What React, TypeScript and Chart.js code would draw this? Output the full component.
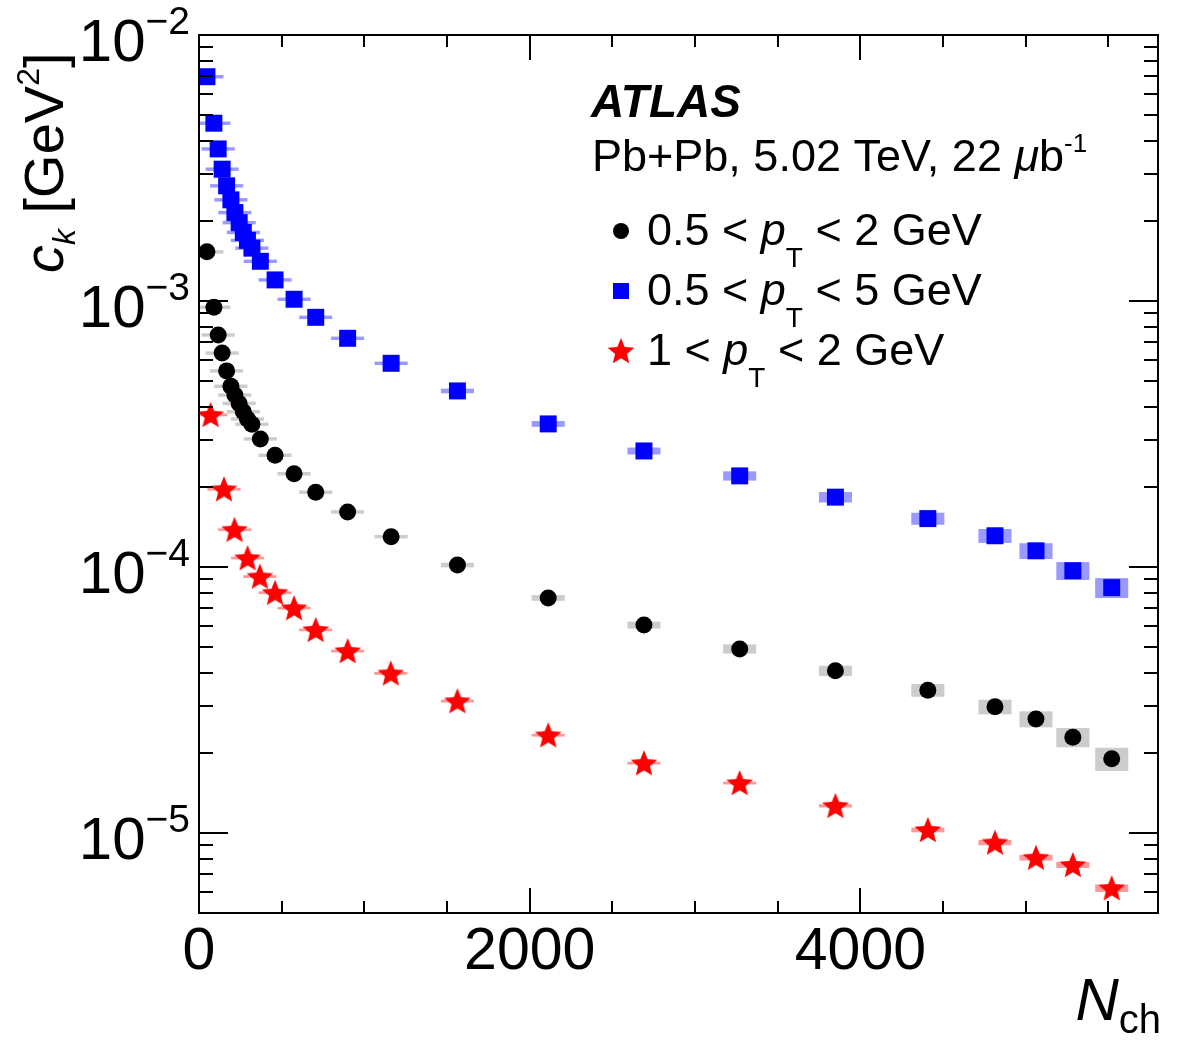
import { useEffect, useRef } from 'react';
import { Chart, registerables } from 'chart.js';

Chart.register(...registerables);

const FONT = '"Liberation Sans", Arial, Helvetica, sans-serif';

// Charged-particle multiplicity bin centres
const nchBins = [
  48, 90, 116, 140, 167, 193, 217, 243, 268, 293, 320, 371, 460, 575, 706, 899,
  1162, 1563, 2112, 2691, 3270, 3849, 4408, 4814, 5062, 5285, 5520,
];
const nchBinsHighPt = [
  70, 151, 215, 294, 368, 460, 575, 706, 899, 1160, 1563, 2112, 2691, 3270, 3849,
  4408, 4814, 5062, 5285, 5520,
];

// c_k [GeV^2] for each pT selection
const ckPt05to2 = [
  1.53e-3, 0.947e-3, 0.745e-3, 0.637e-3, 0.546e-3, 0.478e-3, 0.443e-3, 0.412e-3,
  0.383e-3, 0.36e-3, 0.344e-3, 0.303e-3, 0.263e-3, 0.224e-3, 0.191e-3, 0.161e-3,
  0.13e-3, 0.1017e-3, 0.0765e-3, 0.0605e-3, 0.0492e-3, 0.0407e-3, 0.0344e-3,
  0.0298e-3, 0.0268e-3, 0.0229e-3, 0.019e-3,
];
const ckPt05to5 = [
  6.97e-3, 4.66e-3, 3.73e-3, 3.13e-3, 2.71e-3, 2.4e-3, 2.15e-3, 1.97e-3, 1.81e-3,
  1.69e-3, 1.58e-3, 1.41e-3, 1.2e-3, 1.015e-3, 0.868e-3, 0.724e-3, 0.583e-3,
  0.459e-3, 0.345e-3, 0.273e-3, 0.22e-3, 0.183e-3, 0.152e-3, 0.131e-3, 0.115e-3,
  0.0968e-3, 0.0836e-3,
];
const ckPt1to2 = [
  0.373e-3, 0.196e-3, 0.138e-3, 0.108e-3, 0.092e-3, 0.08e-3, 0.07e-3, 0.058e-3,
  0.0483e-3, 0.0398e-3, 0.0313e-3, 0.0233e-3, 0.0183e-3, 0.0154e-3, 0.01264e-3,
  0.01026e-3, 0.0092e-3, 0.00807e-3, 0.00758e-3, 0.0062e-3,
];

// Relative systematic uncertainties
const systPt05to2 = [
  0.015, 0.015, 0.015, 0.015, 0.015, 0.015, 0.015, 0.015, 0.015, 0.015, 0.015,
  0.015, 0.015, 0.015, 0.015, 0.015, 0.015, 0.02, 0.025, 0.03, 0.04, 0.045, 0.055,
  0.063, 0.069, 0.083, 0.1,
];
const systPt05to5 = [
  0.015, 0.015, 0.015, 0.015, 0.015, 0.015, 0.015, 0.015, 0.015, 0.015, 0.015,
  0.015, 0.015, 0.015, 0.015, 0.015, 0.015, 0.02, 0.025, 0.03, 0.04, 0.045, 0.052,
  0.06, 0.068, 0.077, 0.086,
];
const systPt1to2 = [
  0.012, 0.012, 0.012, 0.012, 0.012, 0.012, 0.012, 0.012, 0.012, 0.012, 0.012,
  0.012, 0.012, 0.012, 0.014, 0.02, 0.023, 0.025, 0.026, 0.032,
];

// Half width of the systematic boxes, in N_ch
const binHalfWidth = 100;

// Axis ranges and ticks
const xRange = [0, 5800];
const yRange = [5e-6, 1e-2];
const xTickLabels = [0, 2000, 4000];
const xMinorStep = 500;
const yDecades = [-5, -4, -3, -2];

const legendRows = ['0.5', '0.5', '1'];
const legendUpper = ['2', '5', '2'];

type Seg = { t: string; font: string; dy?: number };

function drawRich(
  ctx: CanvasRenderingContext2D,
  x: number,
  y: number,
  segs: Seg[],
  align: 'left' | 'right' | 'center' = 'left'
) {
  let total = 0;
  for (const s of segs) {
    ctx.font = s.font;
    total += ctx.measureText(s.t).width;
  }
  let cx = align === 'right' ? x - total : align === 'center' ? x - total / 2 : x;
  ctx.textAlign = 'left';
  ctx.textBaseline = 'alphabetic';
  for (const s of segs) {
    ctx.font = s.font;
    ctx.fillText(s.t, cx, y + (s.dy || 0));
    cx += ctx.measureText(s.t).width;
  }
}

function makeStar(R: number, r: number, color: string) {
  const c = document.createElement('canvas');
  const s = Math.ceil(2 * R + 2);
  c.width = s;
  c.height = s;
  const g = c.getContext('2d')!;
  g.translate(s / 2, s / 2 + 1);
  g.beginPath();
  for (let i = 0; i < 10; i++) {
    const rad = i % 2 === 0 ? R : r;
    const a = -Math.PI / 2 + (i * Math.PI) / 5;
    g.lineTo(rad * Math.cos(a), rad * Math.sin(a));
  }
  g.closePath();
  g.fillStyle = color;
  g.fill();
  return c;
}

const systBoxes = {
  id: 'systBoxes',
  beforeDatasetsDraw(chart: any) {
    const { ctx, chartArea, scales } = chart;
    const x = scales.x;
    const y = scales.y;
    ctx.save();
    ctx.beginPath();
    ctx.rect(chartArea.left, chartArea.top, chartArea.right - chartArea.left, chartArea.bottom - chartArea.top);
    ctx.clip();
    chart.data.datasets.forEach((ds: any) => {
      ctx.fillStyle = ds.systColor;
      ds.data.forEach((p: any, i: number) => {
        const r = ds.syst[i];
        const x0 = x.getPixelForValue(p.x - binHalfWidth);
        const x1 = x.getPixelForValue(p.x + binHalfWidth);
        const y0 = y.getPixelForValue(p.y * (1 + r));
        const y1 = y.getPixelForValue(p.y * (1 - r));
        ctx.fillRect(x0, y0, x1 - x0, y1 - y0);
      });
    });
    ctx.restore();
  },
};

const frame = {
  id: 'frame',
  afterDraw(chart: any) {
    const { ctx, chartArea, scales } = chart;
    const { left, right, top, bottom } = chartArea;
    const x = scales.x;
    const y = scales.y;
    ctx.save();
    ctx.strokeStyle = '#000';
    ctx.fillStyle = '#000';
    ctx.lineWidth = 2;
    ctx.strokeRect(left, top, right - left, bottom - top);

    // x ticks (bottom and top)
    ctx.beginPath();
    for (let v = xRange[0]; v <= xRange[1]; v += xMinorStep) {
      const px = Math.round(x.getPixelForValue(v));
      const len = v % 2000 === 0 ? 25 : 12;
      ctx.moveTo(px, bottom);
      ctx.lineTo(px, bottom - len);
      ctx.moveTo(px, top);
      ctx.lineTo(px, top + len);
    }
    // y ticks (left and right)
    for (let d = -6; d <= -2; d++) {
      for (let m = 1; m <= 9; m++) {
        const v = m * Math.pow(10, d);
        if (v < yRange[0] * 0.999 || v > yRange[1] * 1.001) continue;
        const py = Math.round(y.getPixelForValue(v));
        const len = m === 1 ? 29 : 14;
        ctx.moveTo(left, py);
        ctx.lineTo(left + len, py);
        ctx.moveTo(right, py);
        ctx.lineTo(right - len, py);
      }
    }
    ctx.stroke();

    // x tick labels
    for (const v of xTickLabels) {
      const px = x.getPixelForValue(v);
      drawRich(ctx, px, bottom + 56, [{ t: String(v), font: `59px ${FONT}` }], 'center');
    }
    // y tick labels
    for (const d of yDecades) {
      const py = y.getPixelForValue(Math.pow(10, d));
      drawRich(
        ctx,
        190,
        py + 26,
        [
          { t: '10', font: `60px ${FONT}` },
          { t: '\u2212' + String(-d), font: `39px ${FONT}`, dy: -27 },
        ],
        'right'
      );
    }

    // axis titles
    drawRich(
      ctx,
      1161,
      1020,
      [
        { t: 'N', font: `italic 60px ${FONT}` },
        { t: 'ch', font: `40px ${FONT}`, dy: 13 },
      ],
      'right'
    );
    ctx.save();
    ctx.translate(63, 273);
    ctx.rotate(-Math.PI / 2);
    drawRich(ctx, 0, 0, [
      { t: 'c', font: `italic 56px ${FONT}` },
      { t: 'k', font: `italic 32px ${FONT}`, dy: 12 },
      { t: ' [GeV', font: `56px ${FONT}` },
      { t: '2', font: `32px ${FONT}`, dy: -24 },
      { t: ']', font: `56px ${FONT}` },
    ]);
    ctx.restore();

    // labels
    drawRich(ctx, 591, 117, [{ t: 'ATLAS', font: `italic bold 46px ${FONT}` }]);
    drawRich(ctx, 592, 171, [
      { t: 'Pb+Pb, 5.02 TeV, 22 ', font: `45px ${FONT}` },
      { t: '\u03bc', font: `italic 45px ${FONT}` },
      { t: 'b', font: `45px ${FONT}` },
      { t: '-1', font: `26px ${FONT}`, dy: -19 },
    ]);

    // legend
    const rowBase = [245, 305, 365];
    chart.data.datasets.forEach((ds: any, i: number) => {
      const cy = rowBase[i] - 14;
      const mx = 621;
      if (ds.pointStyle === 'circle') {
        ctx.fillStyle = ds.backgroundColor;
        ctx.beginPath();
        ctx.arc(mx, cy, 8, 0, Math.PI * 2);
        ctx.fill();
      } else if (ds.pointStyle === 'rect') {
        ctx.fillStyle = ds.backgroundColor;
        ctx.fillRect(mx - 8, cy - 8, 16, 16);
      } else {
        const img = ds.pointStyle as HTMLCanvasElement;
        ctx.drawImage(img, mx - img.width / 2, cy - img.height / 2);
      }
      ctx.fillStyle = '#000';
      drawRich(ctx, 647, rowBase[i], [
        { t: legendRows[i] + ' < ', font: `45px ${FONT}` },
        { t: 'p', font: `italic 45px ${FONT}` },
        { t: 'T', font: `28px ${FONT}`, dy: 22 },
        { t: ' < ' + legendUpper[i] + ' GeV', font: `45px ${FONT}` },
      ]);
    });
    ctx.restore();
  },
};

export default function App() {
  const ref = useRef<HTMLCanvasElement>(null);

  useEffect(() => {
    const canvas = ref.current!;
    const star = makeStar(14, 6.2, '#ff0000');
    const toPoints = (xs: number[], ys: number[]) => ys.map((v, i) => ({ x: xs[i], y: v }));
    const chart = new Chart(canvas, {
      type: 'scatter',
      data: {
        datasets: [
          {
            label: '0.5 < pT < 2 GeV',
            data: toPoints(nchBins, ckPt05to2),
            pointStyle: 'circle',
            pointRadius: 8.5,
            backgroundColor: '#000000',
            borderWidth: 0,
            syst: systPt05to2,
            systColor: '#cccccc',
          } as any,
          {
            label: '0.5 < pT < 5 GeV',
            data: toPoints(nchBins, ckPt05to5),
            pointStyle: 'rect',
            pointRadius: 12,
            backgroundColor: '#0000ff',
            borderWidth: 0,
            syst: systPt05to5,
            systColor: '#9999ff',
          } as any,
          {
            label: '1 < pT < 2 GeV',
            data: toPoints(nchBinsHighPt, ckPt1to2),
            pointStyle: star,
            pointRadius: 14,
            backgroundColor: '#ff0000',
            borderWidth: 0,
            syst: systPt1to2,
            systColor: '#ff9999',
          } as any,
        ],
      },
      options: {
        animation: false,
        responsive: false,
        devicePixelRatio: 1,
        events: [],
        layout: { padding: { left: 199, right: 24, top: 35, bottom: 146 } },
        scales: {
          x: { type: 'linear', min: xRange[0], max: xRange[1], display: false },
          y: { type: 'logarithmic', min: yRange[0], max: yRange[1], display: false },
        },
        plugins: { legend: { display: false }, tooltip: { enabled: false } },
      },
      plugins: [systBoxes, frame],
    });
    return () => chart.destroy();
  }, []);

  return (
    <div style={{ position: 'absolute', left: 0, top: 0, width: 1182, height: 1059, background: '#ffffff' }}>
      <canvas ref={ref} width={1182} height={1059} style={{ display: 'block' }} />
    </div>
  );
}
